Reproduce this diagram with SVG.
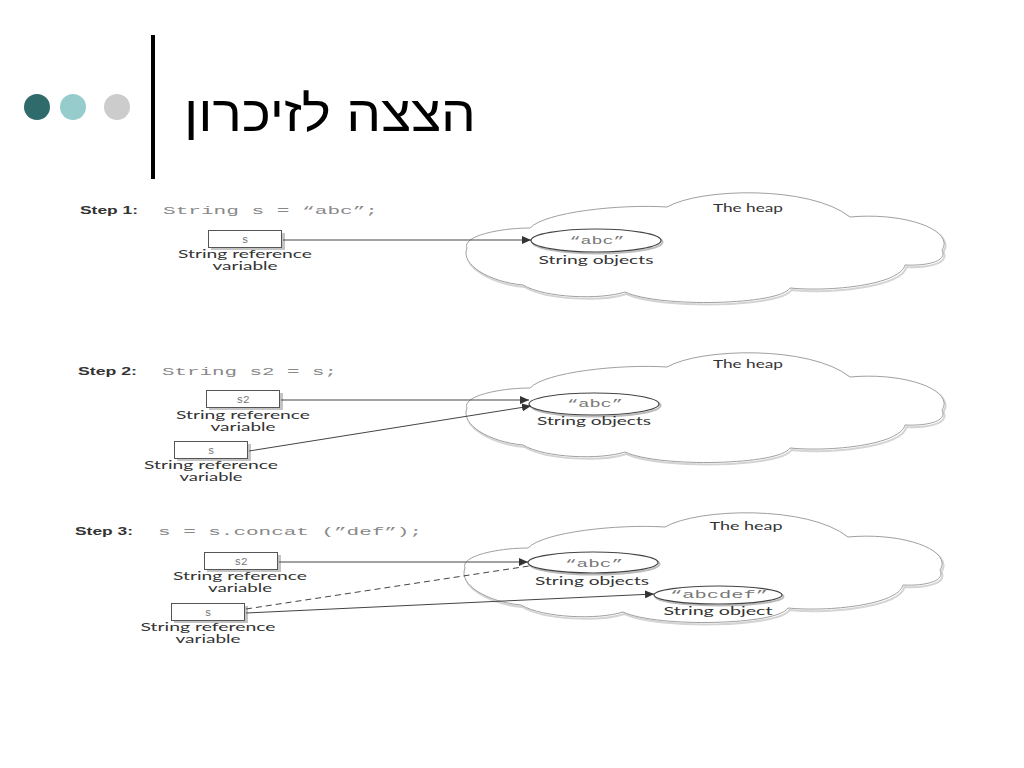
<svg xmlns="http://www.w3.org/2000/svg" width="1024" height="768" viewBox="0 0 1024 768">
<style>
.step{font-family:"Liberation Sans",Arial,sans-serif;font-weight:bold;font-size:10.5px;fill:#333}
.code{font-family:"Liberation Mono","Courier New",monospace;font-size:11px;fill:#888}
.lbl{font-family:"Lato","Liberation Sans",sans-serif;font-size:11px;fill:#333;text-anchor:middle}
.var{font-family:"Liberation Mono","Courier New",monospace;font-size:11px;fill:#777;text-anchor:middle}
.box{fill:#fff;stroke:#555;stroke-width:1}
.shadow{fill:#c4c4c4}
.obj{fill:#fff;stroke:#444;stroke-width:1.2}
.objsh{fill:none;stroke:#bbb;stroke-width:2}
.cloud{fill:#fff;stroke:#a0a0a0;stroke-width:1}
.cloudsh{fill:none;stroke:#d4d4d4;stroke-width:2}
.conn{stroke:#444;stroke-width:1;fill:none}
.dash{stroke-dasharray:6 4}
</style>
<defs>
<marker id="arr" markerWidth="10" markerHeight="8" refX="9" refY="4" orient="auto" markerUnits="userSpaceOnUse">
<path d="M0,0 L9,4 L0,8 Z" fill="#333"/>
</marker>
<path id="cloudShape" d="M467,248 C462,236 500,228 530,228 C545,212 620,204 667,207 C700,188 810,185 850,217 C905,212 955,230 942,250 C948,262 925,266 905,265 C900,285 830,292 790,288 C780,305 660,308 625,292 C600,300 545,298 523,285 C490,282 460,265 467,248 Z"/>
</defs>
<rect width="1024" height="768" fill="#fff"/>

<g id="title">
<circle cx="37" cy="107" r="13" fill="#2f6b6b"/>
<circle cx="73" cy="107" r="13" fill="#96cccc"/>
<circle cx="117" cy="107" r="13" fill="#cccccc"/>
<rect x="151" y="35" width="4" height="144" fill="#000"/>
<text x="476" y="131" font-family="'Liberation Sans','DejaVu Sans',sans-serif" font-size="50" fill="#000" text-anchor="end" textLength="292" lengthAdjust="spacingAndGlyphs">הצצה לזיכרון</text>
</g>

<!-- Step 1 -->
<g id="step1-label">
<text class="step" x="80" y="214" textLength="58" lengthAdjust="spacingAndGlyphs">Step 1:</text>
<text class="code" x="163" y="214" textLength="215" lengthAdjust="spacingAndGlyphs">String s = “abc”;</text>
</g>
<g id="heap1">
<use href="#cloudShape" class="cloudsh" transform="translate(1.5,2)"/>
<use href="#cloudShape" class="cloud"/>
<text class="lbl" x="748" y="212" textLength="70" lengthAdjust="spacingAndGlyphs">The heap</text>
</g>
<g id="s-var1">
<rect class="shadow" x="211" y="233" width="74" height="17"/>
<rect class="box" x="208.5" y="230.5" width="73" height="17"/>
<text class="var" x="245" y="243">s</text>
<text class="lbl" x="245" y="258" textLength="134" lengthAdjust="spacingAndGlyphs">String reference</text>
<text class="lbl" x="245" y="270" textLength="65" lengthAdjust="spacingAndGlyphs">variable</text>
</g>
<g id="abc1">
<ellipse class="objsh" cx="597.5" cy="242" rx="65" ry="11.5"/>
<ellipse class="obj" cx="596" cy="240.5" rx="65" ry="11.5"/>
<text class="var" x="597" y="244" textLength="55" lengthAdjust="spacingAndGlyphs">“abc”</text>
<text class="lbl" x="596" y="264" textLength="115" lengthAdjust="spacingAndGlyphs">String objects</text>
</g>

<!-- Step 2 -->
<g id="step2-label">
<text class="step" x="78" y="375" textLength="59" lengthAdjust="spacingAndGlyphs">Step 2:</text>
<text class="code" x="162" y="375" textLength="175" lengthAdjust="spacingAndGlyphs">String s2 = s;</text>
</g>
<g id="heap2">
<use href="#cloudShape" class="cloudsh" transform="translate(1.5,162)"/>
<use href="#cloudShape" class="cloud" transform="translate(0,160)"/>
<text class="lbl" x="748" y="368" textLength="70" lengthAdjust="spacingAndGlyphs">The heap</text>
</g>
<g id="s2-var2">
<rect class="shadow" x="209" y="393" width="74" height="17"/>
<rect class="box" x="206.5" y="390.5" width="73" height="17"/>
<text class="var" x="243" y="403">s2</text>
<text class="lbl" x="243" y="419" textLength="134" lengthAdjust="spacingAndGlyphs">String reference</text>
<text class="lbl" x="243" y="431" textLength="65" lengthAdjust="spacingAndGlyphs">variable</text>
</g>
<g id="s-var2">
<rect class="shadow" x="177" y="444" width="74" height="17"/>
<rect class="box" x="174.5" y="441.5" width="73" height="17"/>
<text class="var" x="211" y="454">s</text>
<text class="lbl" x="211" y="469" textLength="134" lengthAdjust="spacingAndGlyphs">String reference</text>
<text class="lbl" x="211" y="481" textLength="63" lengthAdjust="spacingAndGlyphs">variable</text>
</g>
<g id="abc2">
<ellipse class="objsh" cx="595.5" cy="405.5" rx="65" ry="11"/>
<ellipse class="obj" cx="594" cy="404" rx="65" ry="11"/>
<text class="var" x="595" y="407" textLength="56" lengthAdjust="spacingAndGlyphs">“abc”</text>
<text class="lbl" x="594" y="425" textLength="114" lengthAdjust="spacingAndGlyphs">String objects</text>
</g>

<!-- Step 3 -->
<g id="step3-label">
<text class="step" x="75" y="535" textLength="58" lengthAdjust="spacingAndGlyphs">Step 3:</text>
<text class="code" x="158" y="535" textLength="264" lengthAdjust="spacingAndGlyphs">s = s.concat (”def”);</text>
</g>
<g id="heap3">
<use href="#cloudShape" class="cloudsh" transform="translate(-0.5,322)"/>
<use href="#cloudShape" class="cloud" transform="translate(-2,320)"/>
<text class="lbl" x="746" y="530" textLength="73" lengthAdjust="spacingAndGlyphs">The heap</text>
</g>
<g id="s2-var3">
<rect class="shadow" x="207" y="555" width="74" height="17"/>
<rect class="box" x="204.5" y="552.5" width="73" height="17"/>
<text class="var" x="241" y="565">s2</text>
<text class="lbl" x="240" y="580" textLength="134" lengthAdjust="spacingAndGlyphs">String reference</text>
<text class="lbl" x="240" y="592" textLength="64" lengthAdjust="spacingAndGlyphs">variable</text>
</g>
<g id="s-var3">
<rect class="shadow" x="174" y="606" width="74" height="17"/>
<rect class="box" x="171.5" y="603.5" width="73" height="17"/>
<text class="var" x="208" y="616">s</text>
<text class="lbl" x="208" y="631" textLength="135" lengthAdjust="spacingAndGlyphs">String reference</text>
<text class="lbl" x="208" y="643" textLength="65" lengthAdjust="spacingAndGlyphs">variable</text>
</g>
<g id="abc3">
<ellipse class="objsh" cx="594.5" cy="564" rx="65" ry="10.5"/>
<ellipse class="obj" cx="593" cy="562.5" rx="65" ry="10.5"/>
<text class="var" x="594" y="567" textLength="58" lengthAdjust="spacingAndGlyphs">“abc”</text>
<text class="lbl" x="592" y="585" textLength="114" lengthAdjust="spacingAndGlyphs">String objects</text>
</g>
<g id="abcdef3">
<ellipse class="objsh" cx="719.5" cy="596.5" rx="64" ry="9"/>
<ellipse class="obj" cx="718" cy="595" rx="64" ry="9"/>
<text class="var" x="719" y="598" textLength="98" lengthAdjust="spacingAndGlyphs">“abcdef”</text>
<text class="lbl" x="718" y="615" textLength="109" lengthAdjust="spacingAndGlyphs">String object</text>
</g>

<g id="connectors">
<line class="conn" x1="283" y1="240" x2="531" y2="240" marker-end="url(#arr)"/>
<line class="conn" x1="281" y1="400" x2="529" y2="400" marker-end="url(#arr)"/>
<line class="conn" x1="249" y1="451" x2="531" y2="406" marker-end="url(#arr)"/>
<line class="conn" x1="279" y1="562" x2="528" y2="562" marker-end="url(#arr)"/>
<line class="conn dash" x1="246" y1="609" x2="529" y2="566"/>
<line class="conn" x1="246" y1="613" x2="654" y2="594" marker-end="url(#arr)"/>
</g>
</svg>
